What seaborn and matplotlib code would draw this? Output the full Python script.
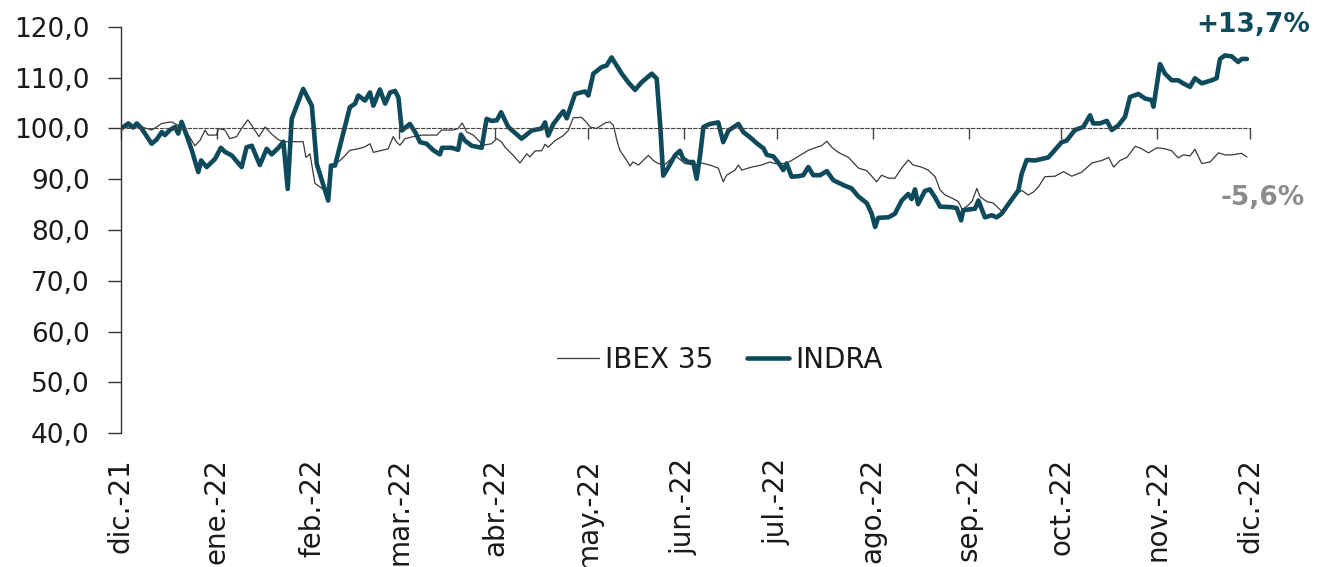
import pandas as pd
import matplotlib
matplotlib.use('Agg')
import matplotlib.pyplot as plt
import seaborn as sns

# dias transcurridos desde el 1-dic-2021 y cotizacion en base 100
ibex_dia = [0, 2.4, 6.7, 9.9, 11.5, 13.2, 16.4, 18.5, 19.6, 21.2, 23.9, 25.5, 27.2, 28.2, 30.9, 31.5,
            33.6, 35.2, 37.4, 39.0, 41.0, 42.3, 44.6, 46.6, 48.7, 50.9, 52.5, 55.2, 58.9, 59.8, 61.1,
            62.7, 64.3, 66.5, 68.1, 71.4, 74.0, 76.7, 78.9, 80.5, 81.6, 84.3, 86.4, 88.0, 89.1, 90.2,
            91.8, 94.5, 97.2, 102.1, 103.7, 107.4, 109.0, 110.3, 111.8, 113.9, 115.5, 117.1, 119.8,
            121.5, 123.1, 124.2, 126.8, 129.0, 131.2, 132.2, 133.9, 136.0, 137.1, 138.1, 140.3, 143.0,
            144.6, 146.2, 148.9, 150.5, 151.6, 153.8, 156.5, 158.1, 159.2, 160.3, 161.3, 163.5, 164.6,
            165.5, 167.3, 170.5, 172.1, 173.7, 175.9, 179.1, 182.3, 185.6, 187.7, 190.4, 193.1, 194.7,
            195.8, 198.5, 199.6, 200.7, 203.9, 207.1, 209.8, 211.4, 214.7, 216.8, 219.5, 222.2, 224.9,
            226.5, 228.2, 229.8, 231.9, 235.2, 238.4, 241.1, 244.3, 245.9, 248.1, 250.2, 252.4, 254.5,
            256.1, 258.8, 261.0, 263.2, 264.8, 266.4, 268.6, 270.7, 272.0, 273.5, 275.1, 276.7, 277.7,
            279.9, 282.0, 283.7, 285.3, 286.9, 289.0, 291.2, 293.3, 295.0, 296.6, 298.7, 302.0, 304.7,
            307.4, 310.6, 313.9, 317.1, 319.3, 320.9, 323.0, 325.2, 327.9, 330.0, 332.2, 334.9, 337.5,
            339.7, 341.8, 343.4, 345.6, 347.2, 349.4, 352.1, 354.8, 356.9, 359.1, 362.3, 364.0]
ibex_val = [100.0, 100.3, 100.3, 99.7, 100.3, 101.0, 101.3, 100.6, 100.3, 99.3, 96.6, 97.6, 99.7, 98.7,
            98.7, 100.0, 99.7, 98.0, 98.4, 100.0, 101.7, 100.6, 98.4, 100.3, 98.9, 97.8, 97.4, 97.4,
            97.4, 94.3, 95.0, 89.2, 88.5, 87.6, 92.4, 94.0, 95.7, 96.0, 96.4, 97.0, 95.3, 95.7, 96.0,
            98.4, 97.3, 96.7, 98.0, 98.4, 98.7, 98.7, 99.7, 99.7, 100.0, 101.1, 99.3, 98.7, 97.7, 96.7,
            97.0, 98.0, 97.3, 96.3, 94.7, 93.2, 95.0, 94.4, 95.6, 95.6, 96.9, 96.3, 97.6, 98.6, 99.6,
            102.1, 102.2, 101.2, 100.3, 100.0, 101.1, 101.3, 100.6, 97.7, 95.7, 93.7, 92.6, 93.4, 92.8,
            94.7, 93.7, 93.1, 92.9, 94.7, 93.1, 92.8, 93.2, 92.8, 92.2, 89.5, 90.8, 91.8, 92.8, 91.8,
            92.4, 92.8, 93.4, 93.1, 93.1, 93.7, 94.7, 95.7, 96.3, 96.6, 97.5, 96.3, 95.3, 94.3, 92.2,
            91.7, 89.5, 90.8, 90.2, 90.2, 92.2, 93.8, 92.8, 92.4, 91.8, 90.5, 87.9, 86.9, 86.3, 85.6,
            84.0, 84.7, 85.6, 88.2, 86.6, 85.6, 85.3, 84.3, 83.4, 85.0, 86.9, 87.8, 86.9, 87.5, 88.5,
            90.5, 90.6, 91.5, 90.6, 91.4, 93.2, 93.7, 94.3, 92.4, 93.7, 94.3, 96.5, 96.0, 95.2, 96.2,
            96.0, 95.6, 94.2, 94.8, 94.6, 95.9, 93.1, 93.4, 95.2, 94.8, 94.8, 95.1, 94.4]

indra_dia = [0, 2.4, 3.9, 5.1, 6.7, 9.9, 11.5, 13.2, 14.2, 15.8, 17.5, 18.5, 19.6, 21.2, 22.9, 25.0,
             25.9, 27.7, 30.4, 32.3, 33.6, 35.8, 39.0, 40.6, 42.3, 44.9, 47.1, 48.7, 50.9, 52.5, 53.9,
             55.2, 58.9, 61.7, 63.3, 67.0, 67.9, 69.2, 74.0, 75.7, 76.7, 78.9, 80.5, 81.6, 83.7, 85.4,
             87.0, 88.6, 89.7, 90.8, 93.4, 95.1, 96.7, 98.8, 101.0, 103.1, 103.8, 106.9, 109.0, 109.9,
             111.2, 113.4, 116.6, 118.2, 119.8, 121.5, 122.9, 125.2, 129.5, 132.8, 136.0, 137.1, 138.1,
             139.8, 141.9, 143.0, 144.1, 146.8, 150.0, 151.1, 152.7, 155.4, 157.0, 158.6, 161.9, 164.0,
             166.2, 168.3, 171.6, 173.2, 174.3, 175.3, 176.9, 179.1, 180.7, 181.7, 183.4, 185.0, 186.1,
             187.2, 188.3, 190.4, 193.1, 194.7, 196.4, 199.6, 201.2, 203.9, 205.5, 207.7, 208.8, 210.9,
             213.1, 214.1, 215.2, 216.8, 219.0, 220.6, 222.2, 223.8, 226.0, 228.2, 230.3, 234.1, 236.2,
             238.4, 241.1, 242.7, 243.8, 244.8, 248.1, 250.2, 252.4, 254.5, 255.6, 256.7, 257.7, 259.9,
             261.5, 263.2, 264.8, 268.6, 270.2, 271.6, 272.3, 276.1, 277.2, 279.3, 281.5, 283.1, 284.7,
             286.9, 290.1, 291.2, 292.8, 295.5, 297.7, 299.8, 301.4, 304.1, 305.7, 308.4, 311.1, 313.3,
             314.3, 316.5, 318.7, 320.3, 322.4, 324.6, 326.2, 328.9, 331.1, 333.2, 333.8, 335.9, 337.5,
             339.7, 341.8, 343.4, 345.6, 347.2, 349.4, 352.6, 354.2, 355.3, 356.9, 359.1, 361.2, 362.3,
             364.0]
indra_val = [100.0, 101.0, 100.2, 101.0, 100.0, 97.0, 97.8, 99.3, 98.7, 99.7, 100.3, 99.0, 101.3, 98.7,
             95.7, 91.4, 93.7, 92.4, 94.0, 96.2, 95.4, 94.7, 92.4, 96.3, 96.6, 92.8, 96.0, 94.9, 96.2,
             97.4, 88.1, 101.9, 107.8, 104.5, 93.0, 85.8, 92.7, 92.7, 104.2, 104.9, 106.5, 105.5, 107.1,
             104.5, 107.7, 104.9, 107.1, 107.4, 106.1, 99.6, 100.9, 99.3, 97.3, 97.0, 95.7, 94.9, 96.2,
             96.2, 95.8, 98.8, 97.6, 96.6, 96.2, 101.9, 101.5, 101.6, 103.2, 100.3, 98.0, 99.6, 100.0,
             101.2, 98.6, 100.9, 102.6, 103.4, 102.0, 106.8, 107.3, 106.5, 110.8, 112.1, 112.4, 114.0,
             110.8, 109.1, 107.6, 109.1, 110.8, 109.8, 100.9, 90.7, 92.3, 94.7, 95.6, 94.1, 93.4, 93.4,
             90.1, 94.6, 100.3, 100.9, 101.2, 97.3, 99.6, 100.9, 99.3, 98.0, 97.1, 96.1, 94.8, 94.5,
             92.8, 91.8, 93.1, 90.5, 90.6, 90.8, 92.4, 90.8, 90.8, 91.6, 89.8, 88.7, 88.2, 86.6, 85.3,
             83.2, 80.6, 82.4, 82.5, 83.2, 85.8, 87.1, 86.1, 88.0, 85.1, 87.7, 88.0, 86.4, 84.6, 84.5,
             84.3, 81.9, 83.9, 84.2, 85.8, 82.5, 82.9, 82.5, 83.2, 85.1, 87.8, 91.1, 93.8, 93.7, 94.0,
             94.3, 95.4, 97.3, 97.6, 99.7, 100.3, 102.6, 101.0, 101.0, 101.5, 99.7, 100.6, 102.3, 106.2,
             106.8, 105.9, 105.6, 104.3, 112.7, 110.8, 109.5, 109.5, 108.9, 108.2, 109.9, 108.9, 109.5,
             109.9, 113.7, 114.4, 114.2, 113.1, 113.7, 113.7]

meses = ['dic.-21', 'ene.-22', 'feb.-22', 'mar.-22', 'abr.-22', 'may.-22', 'jun.-22',
         'jul.-22', 'ago.-22', 'sep.-22', 'oct.-22', 'nov.-22', 'dic.-22']
y_ticks = [40, 50, 60, 70, 80, 90, 100, 110, 120]
y_etiquetas = ['40,0', '50,0', '60,0', '70,0', '80,0', '90,0', '100,0', '110,0', '120,0']

inicio = pd.Timestamp('2021-12-01')
pos_meses = list((pd.date_range(inicio, '2022-12-01', freq='MS') - inicio).days)

azul = '#0D4A5B'
gris = '#3a3a3a'

sns.set_style('ticks')
plt.rcParams['font.family'] = ['DejaVu Sans']
plt.rcParams['text.color'] = '#1a1a1a'

fig = plt.figure(figsize=(13.25, 5.67), dpi=100)
ax = fig.add_axes([0.0913, 0.2363, 0.8521, 0.7161])

df_ibex = pd.DataFrame({'dia': ibex_dia, 'valor': ibex_val})
df_indra = pd.DataFrame({'dia': indra_dia, 'valor': indra_val})
sns.lineplot(data=df_ibex, x='dia', y='valor', color=gris, lw=0.9, label='IBEX 35',
             estimator=None, sort=False, ax=ax)
sns.lineplot(data=df_indra, x='dia', y='valor', color=azul, lw=3.3, label='INDRA',
             estimator=None, sort=False, ax=ax)

ax.set_xlim(0, 365)
ax.set_ylim(40, 120)
ax.set_xlabel('')
ax.set_ylabel('')

# eje Y
ax.set_yticks(y_ticks, labels=y_etiquetas)
ax.tick_params(axis='y', length=9.5, width=1, pad=13, labelsize=19, colors='#333333',
               labelcolor='#1a1a1a')
ax.spines['left'].set_color('#333333')
ax.spines['left'].set_linewidth(1)
sns.despine(ax=ax, top=True, right=True)

# eje X cruzando en 100 (linea discontinua)
ax.spines['bottom'].set_position(('data', 100))
ax.spines['bottom'].set_linestyle((0, (3, 2)))
ax.spines['bottom'].set_linewidth(0.8)
ax.spines['bottom'].set_color('#444444')
ax.xaxis.set_ticks_position('bottom')
ax.set_xticks(pos_meses)
ax.tick_params(axis='x', direction='out', length=8, width=1, colors='#444444',
               labelbottom=False)

# etiquetas de meses abajo
sec = ax.secondary_xaxis('bottom')
sec.set_xticks(pos_meses, labels=meses, rotation=90)
sec.tick_params(length=0, pad=18, labelsize=20, labelcolor='#1a1a1a')
sec.spines['bottom'].set_visible(False)

leg = ax.legend(loc='center', bbox_to_anchor=(0.5306, 0.18), ncol=2, frameon=False,
                fontsize=20, handlelength=1.5, handletextpad=0.25, columnspacing=1.2)

fig.text(1310 / 1325, 1 - 25 / 567, '+13,7%', ha='right', va='center', fontsize=19,
         fontweight='bold', color=azul)
fig.text(1305 / 1325, 1 - 198 / 567, '-5,6%', ha='right', va='center', fontsize=19,
         fontweight='bold', color='#8c8c8c')

fig.savefig('out.png', dpi=100)
